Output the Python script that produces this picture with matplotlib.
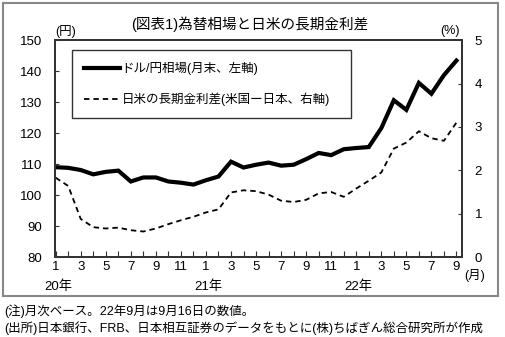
import numpy as np
import matplotlib
matplotlib.use('Agg')
import matplotlib.pyplot as plt
from matplotlib.patches import Rectangle

plt.rcParams['font.family'] = ['Liberation Sans', 'Noto Sans CJK JP', 'DejaVu Sans']

# 2020年1月～2022年9月（月次）
months = ['1', '', '3', '', '5', '', '7', '', '9', '', '11', '',
          '1', '', '3', '', '5', '', '7', '', '9', '', '11', '',
          '1', '', '3', '', '5', '', '7', '', '9']
years = ['20年', '21年', '22年']
year_pos = [0, 12, 24]

# ドル/円相場（月末、円）
usdjpy = [109.0, 108.8, 108.1, 106.7, 107.5, 107.9, 104.4, 105.7, 105.7, 104.4, 104.0, 103.4,
          104.8, 106.0, 110.8, 108.9, 109.8, 110.5, 109.5, 109.8, 111.6, 113.6, 112.9, 114.8,
          115.2, 115.5, 121.6, 130.6, 127.5, 136.2, 132.7, 138.7, 143.4]

# 日米の長期金利差（米国－日本、%）
spread = [1.83, 1.64, 0.88, 0.69, 0.66, 0.68, 0.62, 0.59, 0.66, 0.76, 0.85, 0.93,
          1.03, 1.10, 1.49, 1.54, 1.52, 1.44, 1.30, 1.27, 1.32, 1.47, 1.50, 1.39,
          1.58, 1.76, 1.95, 2.50, 2.64, 2.90, 2.74, 2.68, 3.10]

x = np.arange(len(usdjpy))

fig = plt.figure(figsize=(5.05, 3.37), dpi=100)
ax = fig.add_axes([0.109, 0.237, 0.806, 0.644])
ax2 = ax.twinx()

l1, = ax.plot(x, usdjpy, color='black', lw=3.0, solid_joinstyle='miter',
              label='ドル/円相場(月末、左軸)')
l2, = ax2.plot(x, spread, color='black', lw=1.3, linestyle=(0, (3, 2.2)),
               label='日米の長期金利差(米国ー日本、右軸)')

ax.set_xlim(-0.05, 32.45)
ax.set_ylim(80, 150)
ax2.set_ylim(0, 5)
ax.set_yticks(range(80, 151, 10))
ax2.set_yticks(range(0, 6))
ax.set_xticks(x)
ax.set_xticklabels(months)

ax.tick_params(axis='y', direction='in', length=3, labelsize=9.5, pad=9, color='#333333')
ax2.tick_params(axis='y', direction='in', length=3, labelsize=9.5, pad=9, color='#333333')
ax.tick_params(axis='x', direction='in', length=4, labelsize=9.5, pad=3, color='#333333')

for a in (ax, ax2):
    for s in a.spines.values():
        s.set_color('#333333')
        s.set_linewidth(1.3)

for lab, p in zip(years, year_pos):
    ax.text(p + 0.2, -0.135, lab, transform=ax.get_xaxis_transform(),
            ha='center', va='center', fontsize=9.5)
ax.text(33.45, -0.083, '(月)', transform=ax.get_xaxis_transform(),
        ha='center', va='center', fontsize=9)

ax.text(0.025, 1.04, '(円)', transform=ax.transAxes, ha='center', va='center', fontsize=9)
ax.text(0.97, 1.04, '(%)', transform=ax.transAxes, ha='center', va='center', fontsize=9)

leg = ax.legend(handles=[l1, l2], loc='upper left',
                bbox_to_anchor=(0.041, 0.647, 0.686, 0.307), mode='expand',
                fancybox=False, edgecolor='#333333', framealpha=1,
                fontsize=9, handlelength=2.9, handletextpad=0.15,
                labelspacing=1.4, borderpad=0.95, borderaxespad=0)
leg.get_frame().set_linewidth(1.0)

fig.text(0.495, 0.928, '(図表1)為替相場と日米の長期金利差', ha='center', va='center', fontsize=10.5)

fig.patches.append(Rectangle((3 / 505, 41 / 337), 495 / 505, 293 / 337,
                             transform=fig.transFigure, fill=False,
                             edgecolor='#888888', lw=1.5))

fig.text(0.008, 0.078, '(注)月次ベース。22年9月は9月16日の数値。', ha='left', va='center', fontsize=9)
fig.text(0.008, 0.027, '(出所)日本銀行、FRB、日本相互証券のデータをもとに(株)ちばぎん総合研究所が作成',
         ha='left', va='center', fontsize=9)

fig.savefig('out.png', dpi=100)
